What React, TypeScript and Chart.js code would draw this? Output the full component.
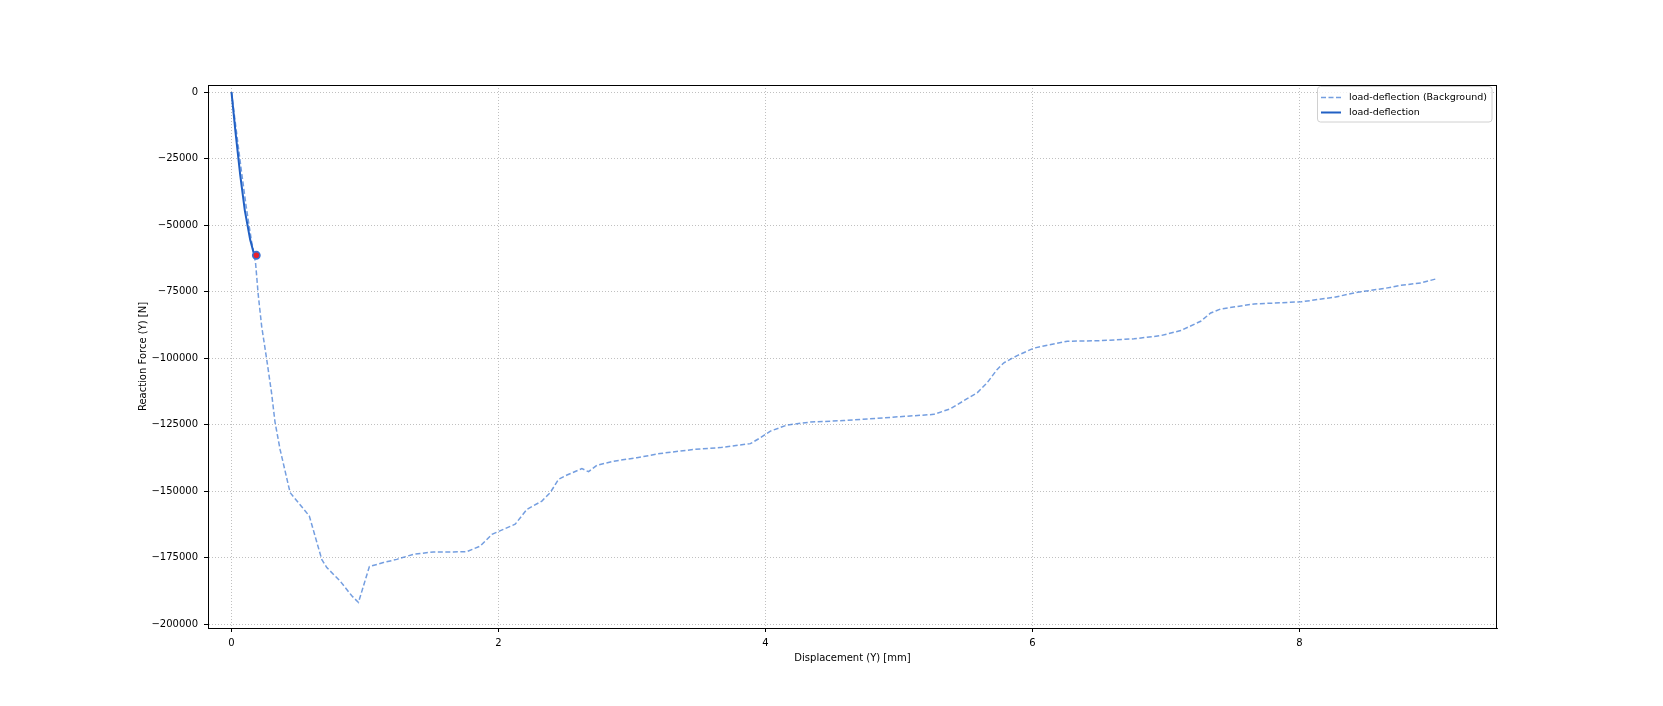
import React, { useEffect, useRef } from 'react';
import { Chart, registerables } from 'chart.js';

Chart.register(...registerables);

// Background load-deflection curve (dashed)
const bgDisp = [
  0, 0.03, 0.07, 0.11, 0.15, 0.18, 0.2, 0.226, 0.264, 0.3, 0.326, 0.364, 0.439, 0.583,
  0.676, 0.714, 0.813, 0.901, 0.951, 1.033, 1.138, 1.238, 1.363, 1.513, 1.663, 1.763,
  1.863, 1.951, 2.125, 2.213, 2.325, 2.388, 2.45, 2.513, 2.625, 2.675, 2.738, 2.862,
  3.037, 3.212, 3.462, 3.662, 3.887, 3.962, 4.037, 4.162, 4.337, 4.587, 4.886, 5.261,
  5.386, 5.511, 5.586, 5.661, 5.736, 5.786, 5.886, 6.011, 6.261, 6.511, 6.761, 6.961,
  7.111, 7.26, 7.335, 7.41, 7.66, 8.012, 8.259, 8.435, 8.634, 8.76, 8.909, 9.022,
];
const bgForce = [
  0, -12000, -28000, -43000, -56000, -64000, -76000, -88000, -100500, -113000, -124000,
  -134300, -150500, -159300, -175600, -178700, -183700, -189300, -191800, -178300,
  -176800, -175600, -173700, -172800, -172800, -172700, -170600, -166200, -162400,
  -156800, -153700, -150500, -145500, -143900, -141500, -142650, -140200, -138700,
  -137400, -135800, -134300, -133600, -132100, -129900, -127400, -125100, -124000,
  -123400, -122400, -121100, -119000, -115200, -113000, -109200, -104200, -101700,
  -99000, -96200, -93600, -93400, -92700, -91500, -89600, -86100, -83000, -81500,
  -79600, -78800, -77100, -75200, -73800, -72600, -71700, -70200,
];

// Current load-deflection curve (solid)
const curDisp = [0, 0.03, 0.065, 0.1, 0.14, 0.165, 0.186];
const curForce = [0, -15000, -31000, -44500, -55500, -60200, -61300];

// Current point marker
const markerDisp = [0.186];
const markerForce = [-61300];

const xTicks = [0, 2, 4, 6, 8];
const yTicks = [0, -25000, -50000, -75000, -100000, -125000, -150000, -175000, -200000];

const X_MIN = -0.176;
const X_MAX = 9.48;
const Y_MIN = -201400;
const Y_MAX = 2700;

const BG_LABEL = 'load-deflection (Background)';
const CUR_LABEL = 'load-deflection';
const X_TITLE = 'Displacement (Y) [mm]';
const Y_TITLE = 'Reaction Force (Y) [N]';

const BG_COLOR = 'rgba(62,120,212,0.72)';
const CUR_COLOR = '#2160c4';
const FONT = 'DejaVu Sans';

const fmt = (v: number) => (v < 0 ? '\u2212' + Math.abs(v) : String(v));

export default function App() {
  const ref = useRef<HTMLCanvasElement | null>(null);

  useEffect(() => {
    const canvas = ref.current;
    if (!canvas) return;

    const decor = {
      id: 'decor',
      afterDraw(chart: any) {
        const { ctx, chartArea: a } = chart;
        ctx.save();
        // frame
        ctx.strokeStyle = '#000';
        ctx.lineWidth = 1;
        ctx.setLineDash([]);
        ctx.strokeRect(Math.round(a.left) + 0.5, Math.round(a.top) + 0.5, Math.round(a.right - a.left) - 1, Math.round(a.bottom - a.top));
        // axis titles
        ctx.fillStyle = '#000';
        ctx.font = `10px "${FONT}"`;
        ctx.textAlign = 'center';
        ctx.textBaseline = 'middle';
        ctx.fillText(X_TITLE, (a.left + a.right) / 2, 658.5);
        ctx.save();
        ctx.translate(143, (a.top + a.bottom) / 2);
        ctx.rotate(-Math.PI / 2);
        ctx.fillText(Y_TITLE, 0, 0);
        ctx.restore();
        // legend
        const lx = 1317.5, ly = 86.5, lw = 174.5, lh = 35.5, r = 3;
        ctx.beginPath();
        ctx.moveTo(lx + r, ly);
        ctx.lineTo(lx + lw - r, ly);
        ctx.quadraticCurveTo(lx + lw, ly, lx + lw, ly + r);
        ctx.lineTo(lx + lw, ly + lh - r);
        ctx.quadraticCurveTo(lx + lw, ly + lh, lx + lw - r, ly + lh);
        ctx.lineTo(lx + r, ly + lh);
        ctx.quadraticCurveTo(lx, ly + lh, lx, ly + lh - r);
        ctx.lineTo(lx, ly + r);
        ctx.quadraticCurveTo(lx, ly, lx + r, ly);
        ctx.closePath();
        ctx.fillStyle = 'rgba(255,255,255,0.8)';
        ctx.fill();
        ctx.strokeStyle = '#d0d0d0';
        ctx.lineWidth = 1;
        ctx.stroke();
        // entries
        ctx.lineWidth = 1.5;
        ctx.strokeStyle = BG_COLOR;
        ctx.setLineDash([5, 2.5]);
        ctx.beginPath();
        ctx.moveTo(1321, 97.5);
        ctx.lineTo(1341, 97.5);
        ctx.stroke();
        ctx.setLineDash([]);
        ctx.strokeStyle = CUR_COLOR;
        ctx.lineWidth = 2;
        ctx.beginPath();
        ctx.moveTo(1321, 112.5);
        ctx.lineTo(1341, 112.5);
        ctx.stroke();
        ctx.fillStyle = '#000';
        ctx.textAlign = 'left';
        ctx.font = `9.5px "${FONT}"`;
        ctx.fillText(BG_LABEL, 1349, 97.5);
        ctx.fillText(CUR_LABEL, 1349, 112.5);
        ctx.restore();
      },
    };

    const chart = new Chart(canvas, {
      type: 'scatter',
      data: {
        datasets: [
          {
            label: 'marker',
            data: markerDisp.map((x, i) => ({ x, y: markerForce[i] })),
            pointRadius: 3.6,
            pointBackgroundColor: '#e8212b',
            pointBorderColor: '#3a6fd0',
            pointBorderWidth: 1.6,
            showLine: false,
            order: 0,
          },
          {
            label: CUR_LABEL,
            data: curDisp.map((x, i) => ({ x, y: curForce[i] })),
            showLine: true,
            borderColor: CUR_COLOR,
            borderWidth: 2,
            pointRadius: 0,
            fill: false,
            tension: 0,
            order: 1,
          },
          {
            label: BG_LABEL,
            data: bgDisp.map((x, i) => ({ x, y: bgForce[i] })),
            showLine: true,
            borderColor: BG_COLOR,
            borderWidth: 1.5,
            borderDash: [5, 2.5],
            pointRadius: 0,
            fill: false,
            tension: 0,
            order: 2,
          },
        ],
      },
      options: {
        animation: false,
        responsive: false,
        devicePixelRatio: 1,
        layout: { padding: { left: 0, top: 85, right: 166, bottom: 0 } },
        plugins: { legend: { display: false }, tooltip: { enabled: false } },
        scales: {
          x: {
            type: 'linear',
            min: X_MIN,
            max: X_MAX,
            afterBuildTicks: (s: any) => {
              s.ticks = xTicks.map((v) => ({ value: v }));
            },
            afterFit: (s: any) => {
              s.height = 78;
            },
            ticks: {
              autoSkip: false,
              maxRotation: 0,
              padding: 5,
              color: '#000',
              font: { family: FONT, size: 10 },
              callback: (v: any) => fmt(Number(v)),
            },
            grid: {
              color: '#b0b0b0',
              lineWidth: 0.8,
              tickLength: 4,
              tickColor: '#000',
              tickWidth: 1,
              tickBorderDash: [],
            },
            border: { display: true, color: '#000', width: 1, dash: [1, 2] },
          },
          y: {
            type: 'linear',
            min: Y_MIN,
            max: Y_MAX,
            afterBuildTicks: (s: any) => {
              s.ticks = yTicks.map((v) => ({ value: v }));
            },
            afterFit: (s: any) => {
              s.width = 208;
            },
            ticks: {
              autoSkip: false,
              padding: 6,
              color: '#000',
              font: { family: FONT, size: 10 },
              callback: (v: any) => fmt(Number(v)),
            },
            grid: {
              color: '#b0b0b0',
              lineWidth: 0.8,
              tickLength: 4,
              tickColor: '#000',
              tickWidth: 1,
              tickBorderDash: [],
            },
            border: { display: true, color: '#000', width: 1, dash: [1, 2] },
          },
        },
      },
      plugins: [decor],
    } as any);

    return () => chart.destroy();
  }, []);

  return (
    <div style={{ position: 'absolute', left: 0, top: 0, width: 1663, height: 706, background: '#fff' }}>
      <canvas ref={ref} width={1663} height={706} style={{ width: 1663, height: 706, display: 'block' }} />
    </div>
  );
}
